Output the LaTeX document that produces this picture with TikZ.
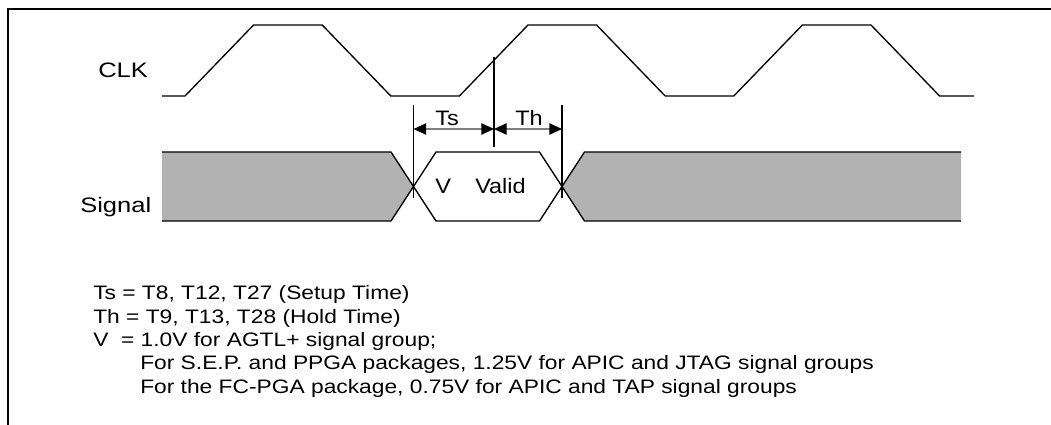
\documentclass[tikz,border=0pt]{standalone}
\usepackage{fontspec}
\setmainfont{Liberation Sans}
\newfontfamily\lblfont[FakeStretch=1.22]{Liberation Sans}
\newfontfamily\tagfont[FakeStretch=1.12]{Liberation Sans}
\newfontfamily\notefont[FakeStretch=1.17]{Liberation Sans}
\usetikzlibrary{arrows.meta}

\tikzset{
  lbl/.style={inner sep=0pt, anchor=base west, font=\lblfont\fontsize{15.7}{19}\selectfont},
  tag/.style={inner sep=0pt, anchor=base west, font=\tagfont\fontsize{15.7}{19}\selectfont},
  note/.style={inner sep=0pt, anchor=base west, font=\notefont\fontsize{14.6}{17.6}\selectfont},
  dim/.style={draw=black!50, line width=1pt,
    {Triangle[length=9.5pt,width=8.5pt,black]}-{Triangle[length=9.5pt,width=8.5pt,black]}},
}

\begin{document}
\begin{tikzpicture}[x=0.75pt, y=-0.75pt]

\useasboundingbox (0,0) rectangle (1051,425);

% frame
\draw[line width=1.5pt] (7.5,425) -- (7.5,9) -- (1051,9);

% signal shading
\fill[black!30] (162,152) -- (391,152) -- (413.5,186.5) -- (391,221) -- (162,221) -- cycle;
\fill[black!30] (961,152) -- (584.5,152) -- (562,186.5) -- (584.5,221) -- (961,221) -- cycle;

\begin{scope}[line width=1pt]
% clock
\draw (162,96) -- (185,96) -- (253.6,25) -- (322.2,25) -- (390.8,96) -- (459.4,96)
  -- (528,25) -- (596.6,25) -- (665.2,96) -- (733.8,96) -- (802.4,25) -- (871,25)
  -- (939.6,96) -- (974,96);
% signal edges
\draw (162,152) -- (391,152) -- (436,221) -- (539.5,221) -- (584.5,152) -- (961,152);
\draw (162,221) -- (391,221) -- (436,152) -- (539.5,152) -- (584.5,221) -- (961,221);
% timing marks
\draw (413.5,105) -- (413.5,198); %setup
\draw (494,57) -- (494,147); %clk edge
\draw (562,105) -- (562,198); %hold
\end{scope}

\coordinate (su) at (413.5,129);
\coordinate (ck) at (494,129);
\coordinate (ho) at (562,129);

\draw[dim] (su) -- (ck); %ts
\draw[dim] (ck) -- (ho); %th

\node[tag] (tslbl) at (435,125) {Ts};
\node[tag] (thlbl) at (515,125) {Th};
\node[tag] (vlbl) at (435,193) {V};
\node[tag] (validlbl) at (475,193) {Valid};

\node[lbl] (clklbl) at (98,77) {CLK};
\node[lbl] (siglbl) at (80,212) {Signal};

\node[note] (ts) at (93,299) {Ts = T8, T12, T27 (Setup Time)};
\node[note] (th) at (93,323) {Th = T9, T13, T28 (Hold Time)};
\node[note] (v) at (93,346) {V\hspace{0.65em}= 1.0V for AGTL+ signal group;};
\node[note] (v2) at (140,369) {For S.E.P. and PPGA packages, 1.25V for APIC and JTAG signal groups};
\node[note] (v3) at (140,393) {For the FC-PGA package, 0.75V for APIC and TAP signal groups};

\end{tikzpicture}
\end{document}
